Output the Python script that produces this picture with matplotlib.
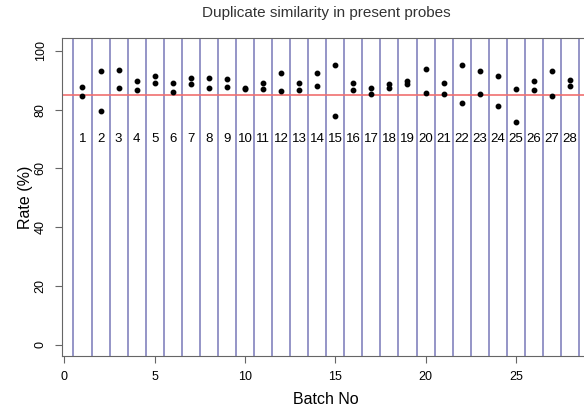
import numpy as np
import matplotlib.pyplot as plt

plt.rcParams['font.family'] = ['Liberation Sans', 'DejaVu Sans']

batches = np.arange(1, 29)
rate_a = [87.7, 93.2, 93.5, 89.6, 91.3, 89.2, 90.6, 90.9, 90.4, 87.5,
          89.0, 92.6, 89.0, 92.6, 95.2, 89.2, 87.3, 88.8, 89.6, 93.9,
          89.2, 95.3, 93.0, 91.3, 87.0, 89.9, 93.0, 90.1]
rate_b = [84.8, 79.6, 87.5, 86.7, 89.2, 85.9, 88.8, 87.5, 87.7, 87.0,
          87.0, 86.5, 86.6, 88.2, 77.9, 86.7, 85.4, 87.2, 88.8, 85.8,
          85.3, 82.2, 85.3, 81.3, 75.9, 86.6, 84.8, 88.1]
threshold = 85
label_y = 70

fig = plt.figure(figsize=(5.84, 4.08), dpi=100)
ax = fig.add_axes([0.106, 0.1275, 0.904, 0.779])

for b in np.arange(0.5, 29.5, 1.0):
    ax.axvline(b, color='#7878b8', lw=1.1, zorder=1)
ax.axhline(threshold, color='#f07070', lw=1.2, zorder=2)

ax.plot(batches, rate_a, 'o', color='black', ms=3.2, zorder=3)
ax.plot(batches, rate_b, 'o', color='black', ms=3.2, zorder=3)

for b in batches:
    ax.text(b, label_y, str(b), ha='center', va='center', fontsize=9.5)

ax.set_xlim(-0.14, 29.1)
ax.set_ylim(-3.74, 104.3)
ax.set_xticks([0, 5, 10, 15, 20, 25])
ax.set_yticks([0, 20, 40, 60, 80, 100])
for lbl in ax.get_yticklabels():
    lbl.set_rotation(90)
    lbl.set_va('center')
ax.tick_params(labelsize=9, color='#666666', length=5, pad=6)
for s in ax.spines.values():
    s.set_color('#666666')

ax.set_title("Duplicate similarity in present probes", fontsize=11, color='#333333', pad=15)
ax.set_xlabel("Batch No", fontsize=11.5, labelpad=6)
ax.set_ylabel("Rate (%)", fontsize=11.5, labelpad=1)

fig.savefig("out.png", dpi=100)
